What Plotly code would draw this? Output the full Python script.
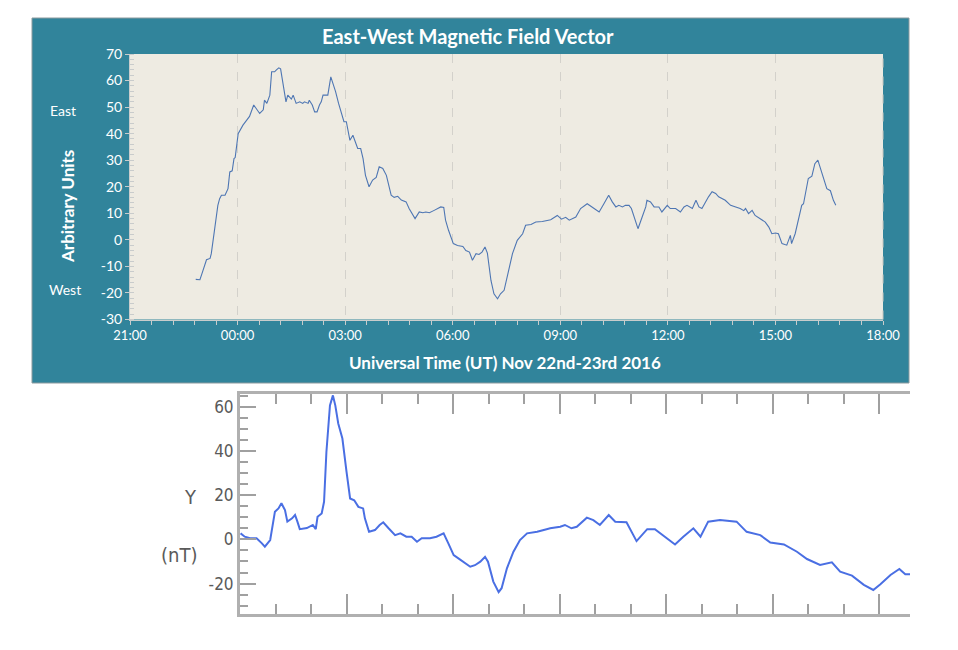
import plotly.graph_objects as go

# ---------------- data: top panel (arbitrary units) ----------------
top_times = ["22:50", "22:57", "23:00", "23:04", "23:08", "23:14", "23:16", "23:21", "23:27", "23:30",
             "23:33", "23:39", "23:44", "23:47", "23:51", "23:54", "23:56", "00:01", "00:09", "00:15",
             "00:20", "00:27", "00:32", "00:37", "00:43", "00:45", "00:49", "00:54", "00:57", "01:02",
             "01:05", "01:09", "01:12", "01:16", "01:19", "01:21", "01:24", "01:30", "01:33", "01:38",
             "01:44", "01:49", "01:52", "01:58", "02:00", "02:05", "02:09", "02:13", "02:17", "02:20",
             "02:23", "02:31", "02:36", "02:39", "02:44", "02:49", "02:53", "02:58", "03:02", "03:06",
             "03:08", "03:13", "03:16", "03:21", "03:26", "03:30", "03:34", "03:40", "03:46", "03:52",
             "03:57", "04:03", "04:09", "04:17", "04:22", "04:28", "04:34", "04:42", "04:47", "04:53",
             "04:57", "05:04", "05:10", "05:15", "05:21", "05:29", "05:40", "05:45", "05:48", "05:53",
             "06:01", "06:08", "06:17", "06:22", "06:28", "06:33", "06:39", "06:44", "06:49", "06:54",
             "06:58", "07:04", "07:09", "07:15", "07:20", "07:26", "07:32", "07:40", "07:48", "07:57",
             "08:02", "08:11", "08:19", "08:30", "08:44", "08:55", "09:02", "09:09", "09:15", "09:26",
             "09:34", "09:45", "09:53", "10:05", "10:13", "10:21", "10:27", "10:33", "10:38", "10:44",
             "10:49", "10:55", "10:59", "11:06", "11:10", "11:17", "11:23", "11:25", "11:31", "11:37",
             "11:45", "11:50", "11:59", "12:04", "12:13", "12:21", "12:27", "12:32", "12:41", "12:47",
             "12:52", "12:57", "13:03", "13:08", "13:14", "13:20", "13:25", "13:31", "13:36", "13:45",
             "13:53", "14:01", "14:07", "14:10", "14:15", "14:21", "14:26", "14:35", "14:43", "14:49",
             "14:54", "15:00", "15:05", "15:11", "15:19", "15:25", "15:27", "15:33", "15:39", "15:44",
             "15:47", "15:55", "16:01", "16:06", "16:11", "16:17", "16:26", "16:32", "16:37", "16:41"]
top_values = [-14.9, -15.0, -13.0, -10.5, -7.5, -7.0, -5.2, 3.0, 13.0, 15.5,
              16.8, 16.8, 19.3, 25.6, 26.0, 30.6, 31.0, 40.0, 43.2, 45.0,
              46.5, 50.8, 49.0, 47.6, 49.0, 52.6, 51.4, 54.5, 63.3, 63.3,
              64.0, 64.8, 64.4, 58.3, 53.3, 52.0, 54.5, 53.0, 54.5, 51.4,
              52.0, 51.4, 52.0, 51.4, 52.6, 50.8, 48.2, 48.2, 50.8, 52.0,
              54.5, 54.5, 61.4, 59.5, 55.8, 51.4, 48.2, 44.5, 44.5, 39.4,
              37.5, 39.4, 37.5, 34.4, 34.4, 30.6, 24.3, 20.0, 22.5, 23.5,
              27.5, 26.9, 24.3, 16.8, 16.0, 16.4, 15.0, 14.3, 11.8, 9.2,
              8.0, 10.5, 10.2, 10.5, 10.2, 11.1, 12.4, 12.2, 7.4, 3.6,
              -1.4, -2.1, -2.5, -4.0, -4.6, -7.7, -5.2, -5.5, -4.6, -2.7,
              -5.0, -15.3, -20.3, -22.2, -20.3, -19.0, -13.4, -5.2, -0.2, 2.3,
              5.5, 5.8, 6.7, 6.9, 7.6, 9.2, 7.8, 8.5, 7.4, 8.6,
              11.8, 13.6, 12.4, 10.5, 13.6, 16.8, 14.3, 12.4, 13.0, 12.4,
              13.0, 13.0, 11.8, 6.7, 4.2, 8.6, 12.4, 14.9, 14.3, 12.4,
              12.4, 10.5, 13.0, 11.8, 11.8, 10.5, 12.4, 13.0, 11.8, 14.9,
              12.4, 11.8, 14.3, 16.2, 18.1, 17.5, 16.2, 15.6, 14.9, 13.0,
              12.4, 11.8, 11.0, 11.8, 9.9, 11.1, 9.2, 8.0, 6.7, 4.8,
              2.3, 2.6, 2.3, -1.4, -2.0, 1.7, -1.4, 2.3, 8.6, 13.0,
              13.6, 23.1, 24.0, 28.7, 30.0, 25.6, 19.3, 18.5, 14.9, 13.0]

top_xticks = ["21:00", "00:00", "03:00", "06:00", "09:00", "12:00", "15:00", "18:00"]
top_yticks = [-30, -20, -10, 0, 10, 20, 30, 40, 50, 60, 70]

# ---------------- data: bottom panel (Y component, nT) ----------------
bot_times = ["00:01", "00:08", "00:17", "00:28", "00:37", "00:42", "00:51", "00:59", "01:05", "01:10",
             "01:16", "01:20", "01:28", "01:33", "01:37", "01:41", "01:53", "02:03", "02:08", "02:11",
             "02:18", "02:22", "02:26", "02:32", "02:37", "02:41", "02:46", "02:53", "03:00", "03:06",
             "03:13", "03:20", "03:28", "03:31", "03:38", "03:48", "03:56", "04:02", "04:11", "04:22",
             "04:31", "04:41", "04:50", "04:59", "05:07", "05:21", "05:32", "05:44", "05:52", "06:01",
             "06:09", "06:20", "06:29", "06:37", "06:46", "06:54", "06:59", "07:08", "07:17", "07:22",
             "07:31", "07:42", "07:53", "08:05", "08:22", "08:38", "08:44", "09:01", "09:09", "09:20",
             "09:29", "09:46", "09:57", "10:08", "10:23", "10:34", "10:53", "11:10", "11:28", "11:41",
             "11:58", "12:15", "12:29", "12:46", "12:58", "13:11", "13:31", "13:59", "14:16", "14:39",
             "14:56", "15:19", "15:41", "15:58", "16:20", "16:40", "16:54", "17:14", "17:34", "17:50",
             "18:02", "18:19", "18:34", "18:44", "18:52"]
bot_values = [2.7, 1.2, 0.5, 0.5, -1.8, -3.3, -0.3, 12.5, 14.0, 16.3,
              13.2, 8.0, 9.5, 11.0, 8.0, 4.6, 5.1, 6.5, 4.6, 10.2,
              11.7, 17.0, 39.5, 60.6, 65.1, 60.6, 52.4, 45.6, 30.5, 18.5,
              17.7, 14.7, 14.0, 9.5, 3.4, 4.2, 6.5, 7.7, 5.0, 1.9,
              2.7, 1.2, 1.2, -1.1, 0.5, 0.5, 1.2, 2.7, -1.8, -7.1,
              -8.6, -10.8, -12.4, -11.7, -10.1, -7.9, -10.1, -19.1, -23.9, -22.1,
              -13.1, -5.6, -0.3, 2.7, 3.4, 4.6, 5.0, 5.7, 6.5, 5.0,
              5.7, 9.8, 8.7, 6.5, 11.0, 8.0, 7.7, -0.8, 4.6, 4.6,
              1.2, -2.3, 1.2, 5.0, 1.2, 8.0, 8.7, 8.0, 3.4, 1.9,
              -1.4, -2.3, -5.6, -8.9, -11.6, -10.4, -14.6, -16.4, -20.6, -22.9,
              -20.3, -16.1, -13.4, -15.8, -15.8]

bot_yticks = [-20, 0, 20, 40, 60]


def top_dt(t):
    day = "2016-11-22" if int(t[:2]) >= 21 else "2016-11-23"
    return day + " " + t


def bot_dt(t):
    return "2016-11-23 " + t


TEAL = "#31849B"
W, H = 958, 650
OFF = 8  # page body margin in the screenshot


def PX(x):
    return (x - OFF) / W


def PY(y):
    return 1 - (y - OFF) / H


LATO = "Lato, Open Sans, sans-serif"
NARROW = "Liberation Sans Narrow, DejaVu Sans Condensed, Liberation Sans, sans-serif"

fig = go.Figure()
fig.add_trace(go.Scatter(x=[top_dt(t) for t in top_times], y=top_values, mode="lines",
                         line=dict(color="#4e76b3", width=1.1), xaxis="x", yaxis="y",
                         showlegend=False, hoverinfo="skip"))
fig.add_trace(go.Scatter(x=[bot_dt(t) for t in bot_times], y=bot_values, mode="lines",
                         line=dict(color="#4a6fe3", width=2), xaxis="x2", yaxis="y2",
                         showlegend=False, hoverinfo="skip"))

light = "#c9cccc"


def ann(text, x, y, size, color, family, angle=0):
    return dict(text=text, xref="paper", yref="paper", x=PX(x), y=PY(y), showarrow=False,
                xanchor="center", yanchor="middle", textangle=angle,
                font=dict(color=color, size=size, family=family))


fig.update_layout(
    width=W, height=H, autosize=False,
    margin=dict(l=0, r=0, t=0, b=0, pad=0),
    paper_bgcolor="white", plot_bgcolor="rgba(0,0,0,0)",
    font=dict(family=LATO),
    xaxis=dict(
        domain=[PX(130), PX(883)], anchor="y", type="date", automargin=False,
        range=[top_dt(top_xticks[0]), top_dt(top_xticks[-1])],
        tickvals=[top_dt(t) for t in top_xticks], ticktext=top_xticks,
        ticks="outside", ticklen=4, tickcolor=light, tickwidth=1,
        showline=True, linecolor=light, linewidth=1,
        showgrid=True, gridcolor="#d3d1cb", griddash="dash", gridwidth=1,
        zeroline=False,
        tickfont=dict(color="white", size=13, family=LATO),
        minor=dict(dtick=36 * 60 * 1000, tick0=top_dt("21:00"), ticks="outside", ticklen=4,
                   tickcolor=light, tickwidth=1, showgrid=False),
    ),
    yaxis=dict(
        domain=[PY(319.5), PY(54)], anchor="x", automargin=False,
        range=[-30, 70], tickvals=top_yticks, ticktext=[str(v) for v in top_yticks],
        ticks="outside", ticklen=4, tickcolor=light, tickwidth=1,
        showline=True, linecolor=light, linewidth=1,
        showgrid=False, zeroline=False,
        tickfont=dict(color="white", size=14, family=LATO),
        minor=dict(dtick=2, tick0=0, ticks="inside", ticklen=4, tickcolor=light, tickwidth=1),
    ),
    xaxis2=dict(
        domain=[PX(240), PX(910)], anchor="y2", type="date", automargin=False,
        range=[bot_dt("00:00"), bot_dt("18:52")],
        dtick=3 * 3600 * 1000, tick0=bot_dt("00:00"),
        showticklabels=False,
        ticks="inside", ticklen=20, tickwidth=2, tickcolor="#a0a0a0",
        showline=True, linewidth=3, linecolor="#b0b0b0", mirror="ticks",
        showgrid=False, zeroline=False,
        minor=dict(dtick=3600 * 1000, tick0=bot_dt("00:00"), ticks="inside", ticklen=10,
                   tickwidth=2, tickcolor="#a0a0a0", showgrid=False),
    ),
    yaxis2=dict(
        domain=[PY(614.3), PY(394.3)], anchor="x2", automargin=False,
        range=[-33.9, 65.6], tickvals=bot_yticks, ticktext=[str(v) for v in bot_yticks],
        ticks="inside", ticklen=16, tickwidth=2, tickcolor="#a0a0a0",
        showline=True, linewidth=3, linecolor="#b0b0b0",
        showgrid=False, zeroline=False,
        tickfont=dict(color="#5a5a5a", size=17, family=NARROW),
        minor=dict(dtick=5, tick0=0, ticks="inside", ticklen=8, tickwidth=2, tickcolor="#a0a0a0"),
    ),
    shapes=[
        dict(type="rect", xref="paper", yref="paper", x0=PX(32), x1=PX(909),
             y0=PY(383), y1=PY(18), fillcolor=TEAL,
             line=dict(color="#8c9a9e", width=1), layer="below"),
        dict(type="rect", xref="x domain", yref="y domain", x0=0, x1=1, y0=0, y1=1,
             fillcolor="#EEEBE2", line=dict(width=0), layer="below"),
        dict(type="line", xref="x domain", yref="y domain", x0=1, x1=1, y0=0, y1=1,
             line=dict(color="#c8c6c0", width=1, dash="dash"), layer="below"),
    ],
    annotations=[
        ann("<b>East-West Magnetic Field Vector</b>", 468, 36, 20, "white", LATO),
        ann("<b>Universal Time (UT) Nov 22nd-23rd 2016</b>", 505, 362, 17, "white", LATO),
        ann("<b>Arbitrary Units</b>", 67, 207, 17, "white", LATO, -90),
        ann("East", 63, 110, 14, "white", LATO),
        ann("West", 65, 290, 14, "white", LATO),
        ann("Y", 190, 497, 20, "#5a5a5a", NARROW),
        ann("(nT)", 179, 555, 20, "#5a5a5a", NARROW),
    ],
)

fig.write_html("out.html")
